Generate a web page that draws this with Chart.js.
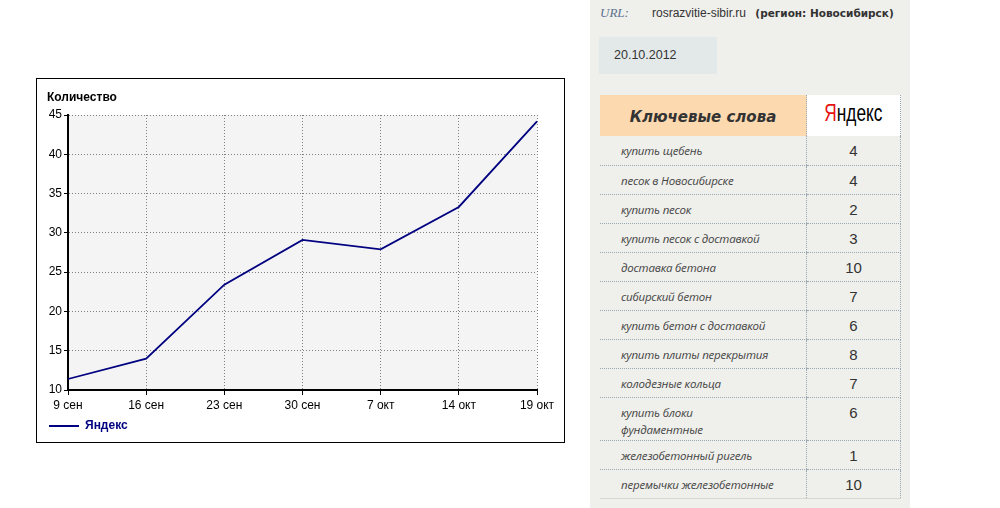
<!DOCTYPE html>
<html>
<head>
<meta charset="utf-8">
<script src="https://cdn.jsdelivr.net/npm/chart.js@4"></script>
<style>
  body { margin: 0; width: 1000px; height: 508px; overflow: hidden; background: #fff; position: relative; }
  .chart-box { position: absolute; left: 36px; top: 78px; width: 527px; height: 363px; border: 1px solid #000; }
  .panel { position: absolute; left: 590px; top: 0; width: 320px; height: 508px; background: #efefeb; }
  .url-label { position: absolute; left: 10px; top: 5px; font: italic 13px "Liberation Serif", serif; color: #5c7290; }
  .url-site { position: absolute; left: 62px; top: 6px; font: 12px "Liberation Sans", sans-serif; color: #333; }
  .url-site b { font: bold 10.5px "DejaVu Sans", sans-serif; margin-left: 6px; }
  .date-box { position: absolute; left: 9px; top: 37px; width: 118px; height: 37px; background: #e3e9e9;
    font: 12.5px "Liberation Sans", sans-serif; color: #333; line-height: 37px; box-sizing: border-box; padding-left: 15px; }
  table.kw { position: absolute; left: 10px; top: 95px; width: 301px; border-collapse: collapse; }
  table.kw td { padding: 0; }
  .kw .head-left { width: 206px; height: 39px; background: #fdd9b0; text-align: center;
    font: bold oblique 15px "DejaVu Sans", sans-serif; color: #333; padding-top: 2px; }
  .kw .head-right { background: #fff; text-align: center; border-left: 1px dotted #9aa8b4; border-right: 1px dotted #9aa8b4; }
  .ya { display: inline-block; font: 24px "Liberation Sans", sans-serif; transform: scaleX(0.72); margin-top: -6px; }
  .ya span { color: #e6120f; }
  .kw tr.row { height: 29px; }
  .kw tr.row td { border-bottom: 1px dotted #9aa8b4; vertical-align: top; padding-top: 6px; padding-bottom: 2px; line-height: 17px; }
  .kw td.word { padding-left: 21px; font: italic 11.5px "Open Sans", sans-serif; letter-spacing: -0.2px; color: #444; white-space: pre-line; }
  .kw td.num { text-align: center; font: 15px "Liberation Sans", sans-serif; color: #333; border-left: 1px dotted #9aa8b4; border-right: 1px dotted #9aa8b4; }
  .kw tr.row:last-child td { border-bottom: 1px solid #d6d6d2; }
</style>
</head>
<body>

<div class="chart-box"><canvas id="myChart" width="527" height="363"></canvas></div>

<div class="panel">
  <div class="url-label">URL:</div>
  <div class="url-site">rosrazvitie-sibir.ru <b>(регион: Новосибирск)</b></div>
  <div class="date-box">20.10.2012</div>
  <table class="kw" id="kwTable">
    <tr>
      <td class="head-left">Ключевые слова</td>
      <td class="head-right"><div class="ya"><span>Я</span>ндекс</div></td>
    </tr>
  </table>
</div>

<script>
// chart data
const dates = ['9 сен', '16 сен', '23 сен', '30 сен', '7 окт', '14 окт', '19 окт'];
const yandexCounts = [11.4, 14, 23.4, 29.1, 27.9, 33.3, 44.2];
const yMin = 10;
const yMax = 45;
const yStep = 5;

// table data
const keywords = [
    'купить щебень',
    'песок в Новосибирске',
    'купить песок',
    'купить песок с доставкой',
    'доставка бетона',
    'сибирский бетон',
    'купить бетон с доставкой',
    'купить плиты перекрытия',
    'колодезные кольца',
    'купить блоки\nфундаментные',
    'железобетонный ригель',
    'перемычки железобетонные'
];
const keywordCounts = [4, 4, 2, 3, 10, 7, 6, 8, 7, 6, 1, 10];


const kwTable = document.getElementById('kwTable');
keywords.forEach((word, i) => {
    const tr = document.createElement('tr');
    tr.className = 'row';
    const tdWord = document.createElement('td');
    tdWord.className = 'word';
    tdWord.textContent = word;
    const tdNum = document.createElement('td');
    tdNum.className = 'num';
    tdNum.textContent = keywordCounts[i];
    tr.appendChild(tdWord);
    tr.appendChild(tdNum);
    kwTable.appendChild(tr);
})


// grey background behind the plot
const plotBackground = {
    id: 'plotBackground',
    beforeDraw(chart) {
        const {ctx, chartArea} = chart;
        ctx.save();
        ctx.fillStyle = '#f4f4f4';
        ctx.fillRect(chartArea.left, chartArea.top, chartArea.right - chartArea.left, chartArea.bottom - chartArea.top);
        ctx.restore();
    }
}

const tickFont = { family: '"Liberation Sans", Arial, sans-serif', size: 12 };

const ctx = document.getElementById('myChart');
const config = {
    type: 'line',
    data: {
        labels: dates,
        datasets: [{
            label: 'Яндекс',
            data: yandexCounts,
            borderColor: '#000080',
            backgroundColor: '#000080',
            borderWidth: 1.8,
            pointRadius: 0,
            tension: 0
        }]
    },
    plugins: [plotBackground],
    options: {
        responsive: false,
        animation: false,
        layout: { padding: { left: 10, right: 27, top: 0, bottom: 0 } },
        plugins: {
            title: {
                display: true,
                text: 'Количество',
                align: 'start',
                color: '#000',
                font: { family: '"Liberation Sans", Arial, sans-serif', size: 12, weight: 'bold' },
                padding: { top: 11, bottom: 10.6 }
            },
            legend: {
                position: 'bottom',
                align: 'start',
                labels: {
                    boxWidth: 30,
                    boxHeight: 0,
                    padding: 2,
                    color: '#000080',
                    font: { family: '"Liberation Sans", Arial, sans-serif', size: 12, weight: 'bold' }
                }
            },
            tooltip: { enabled: false }
        },
        scales: {
            x: {
                afterFit(scale) { scale.height = 28; },
                grid: { color: '#808080', lineWidth: 1, tickLength: 5, tickColor: '#000' },
                border: { color: '#000', width: 2, dash: [1, 2] },
                ticks: { color: '#000', font: tickFont, padding: 3, maxRotation: 0, autoSkip: false }
            },
            y: {
                min: yMin,
                max: yMax,
                afterFit(scale) { scale.width = 21; },
                grid: { color: '#808080', lineWidth: 1, tickLength: 4, tickColor: '#000' },
                border: { color: '#000', width: 2, dash: [1, 2] },
                ticks: { stepSize: yStep, color: '#000', font: tickFont, padding: 2 }
            }
        }
    }
}

new Chart(ctx, config)
</script>
</body>
</html>
